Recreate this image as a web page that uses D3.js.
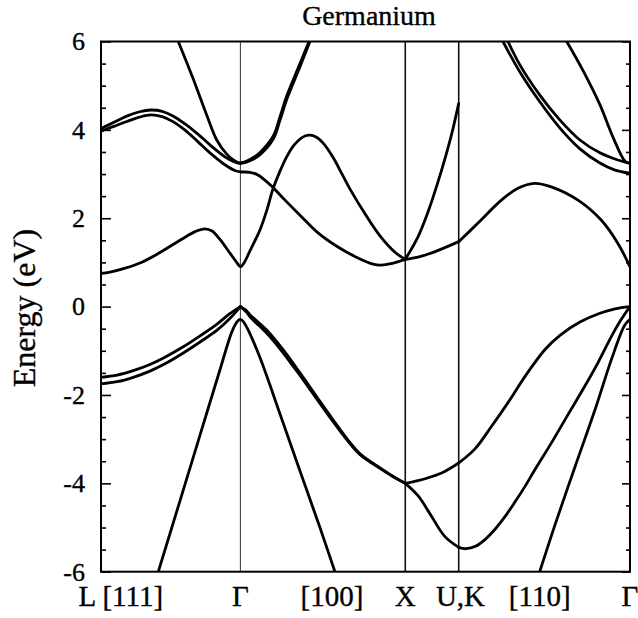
<!DOCTYPE html>
<html><head><meta charset="utf-8">
<script src="https://cdn.jsdelivr.net/npm/d3@7"></script>
<style>body{margin:0;background:#fff} svg text{font-family:'Liberation Serif','Times New Roman',serif !important;stroke:#000;stroke-width:0.35px}</style>
</head><body><svg id="c" width="638" height="618"></svg>
<script>
// ---- path / axis data ----
const symK = [0, 0.866, 1.890, 2.222, 3.286];          // L, Γ, X, U|K, Γ
const xLabels = ["L [111]", "Γ", "[100]", "X", "U,K", "[110]", "Γ"];
const xLabelK = [0.123, 0.866, 1.435, 1.890, 2.233, 2.725, 3.286];
const yMajor = [-6, -4, -2, 0, 2, 4, 6];
const yMinor = [-5.5,-5,-4.5,-3.5,-3,-2.5,-1.5,-1,-0.5,0.5,1,1.5,2.5,3,3.5,4.5,5,5.5];
const title = "Germanium";
const yTitle = "Energy (eV)";

// ---- bands: [k, E(eV)] ----
// valence, L-Γ
const lgHeavy = [[0,-1.60],[0.10,-1.55],[0.20,-1.45],[0.304,-1.31],[0.40,-1.14],[0.511,-0.91],[0.62,-0.65],[0.719,-0.40],[0.80,-0.16],[0.866,0]];
const lgLight = [[0,-1.75],[0.10,-1.70],[0.20,-1.60],[0.304,-1.46],[0.40,-1.29],[0.511,-1.05],[0.62,-0.79],[0.719,-0.54],[0.80,-0.27],[0.866,0]];
// split-off band L-Γ-X
const splitOff = [[0.356,-6.0],[0.491,-4.39],[0.615,-2.91],[0.739,-1.43],[0.814,-0.56],[0.848,-0.33],[0.866,-0.29],
  [0.884,-0.34],[0.913,-0.52],[0.988,-1.16],[1.112,-2.43],[1.236,-3.72],[1.360,-5.0],[1.453,-6.0]];
// valence, Γ-X
const gxV1 = [[0.866,0],[0.90,-0.08],[0.93,-0.20],[1.029,-0.53],[1.130,-0.97],[1.236,-1.50],[1.340,-2.04],[1.441,-2.56],[1.530,-3.00],[1.609,-3.33],[1.733,-3.65],[1.810,-3.83],[1.890,-4.0]];
const gxV2 = [[0.866,0],[0.90,-0.11],[0.93,-0.25],[1.029,-0.60],[1.130,-1.04],[1.236,-1.56],[1.340,-2.09],[1.441,-2.60],[1.530,-3.03],[1.609,-3.35],[1.733,-3.66],[1.810,-3.84],[1.890,-4.0]];
// valence, X-U and K-Γ
const xuV1 = [[1.890,-4.0],[1.969,-3.94],[2.052,-3.85],[2.135,-3.73],[2.222,-3.54]];
const xuV2 = [[1.890,-4.0],[1.969,-4.28],[2.052,-4.74],[2.135,-5.20],[2.222,-5.45]];
const kgV1 = [[2.222,-3.54],[2.323,-3.22],[2.424,-2.72],[2.540,-2.11],[2.632,-1.59],[2.758,-0.97],[2.851,-0.65],[2.975,-0.35],[3.099,-0.15],[3.193,-0.05],[3.286,0]];
const kgV2 = [[2.222,-5.45],[2.267,-5.48],[2.330,-5.42],[2.383,-5.28],[2.445,-5.05],[2.508,-4.76],[2.570,-4.43],[2.632,-4.08],[2.694,-3.70],[2.797,-3.09],[2.900,-2.45],[3.004,-1.81],[3.090,-1.25],[3.170,-0.68],[3.230,-0.30],[3.286,0]];
const kgSO = [[2.725,-6.0],[2.820,-4.94],[2.944,-3.63],[3.068,-2.34],[3.174,-1.16],[3.253,-0.42],[3.286,-0.29]];
// conduction
const cLowest = [[0,0.75],[0.056,0.78],[0.150,0.87],[0.250,1.00],[0.350,1.19],[0.450,1.41],[0.540,1.61],[0.600,1.72],[0.646,1.76],[0.690,1.71],[0.739,1.52],[0.801,1.21],[0.845,0.99],[0.866,0.90],
  [0.890,1.00],[0.925,1.26],[0.988,1.74],[1.029,2.17],[1.068,2.66],[1.110,3.05],[1.155,3.40],[1.200,3.66],[1.250,3.83],[1.290,3.88],[1.330,3.85],[1.380,3.70],[1.441,3.38],[1.500,2.98],[1.547,2.66],[1.640,2.10],[1.733,1.60],[1.826,1.23],[1.890,1.07]];
const cSecond = [[0,3.97],[0.080,4.08],[0.160,4.19],[0.240,4.29],[0.310,4.34],[0.380,4.30],[0.450,4.18],[0.520,4.00],[0.600,3.74],[0.677,3.48],[0.770,3.21],[0.832,3.08],[0.866,3.05],
  [0.925,3.04],[0.975,2.98],[1.050,2.76],[1.143,2.41],[1.236,2.07],[1.348,1.67],[1.472,1.35],[1.596,1.10],[1.690,0.96],[1.740,0.94],[1.801,0.97],[1.890,1.07]];
const cThird = [[0,4.03],[0.080,4.17],[0.160,4.31],[0.240,4.41],[0.310,4.45],[0.380,4.42],[0.450,4.31],[0.520,4.14],[0.600,3.91],[0.677,3.66],[0.770,3.39],[0.832,3.27],[0.866,3.24],
  [0.925,3.30],[0.988,3.44],[1.070,3.79],[1.112,4.22],[1.153,4.68],[1.236,5.43],[1.298,6.0]];
const cSteep = [[0.480,6.0],[0.573,5.15],[0.657,4.33],[0.719,3.77],[0.781,3.45],[0.830,3.30],[0.866,3.25],
  [0.925,3.33],[0.988,3.49],[1.070,3.86],[1.112,4.30],[1.153,4.76],[1.236,5.50],[1.292,6.0]];
const xuC1 = [[1.890,1.07],[1.969,1.12],[2.072,1.24],[2.222,1.47]];
const xuC2 = [[1.890,1.07],[1.969,1.58],[2.031,2.14],[2.087,2.75],[2.143,3.43],[2.180,3.93],[2.222,4.60]];
const kgC1 = [[2.222,1.47],[2.342,1.89],[2.487,2.41],[2.590,2.68],[2.693,2.79],[2.797,2.71],[2.963,2.41],[3.107,1.96],[3.211,1.43],[3.286,0.90]];
const kgUp1 = [[2.528,6.0],[2.602,5.47],[2.727,4.78],[2.851,4.22],[2.975,3.77],[3.099,3.48],[3.193,3.34],[3.286,3.24]];
const kgUp2 = [[2.497,6.0],[2.602,5.31],[2.727,4.63],[2.851,4.04],[2.975,3.57],[3.099,3.25],[3.193,3.09],[3.286,3.02]];
const kgUp3 = [[2.893,6.0],[2.996,5.33],[3.099,4.57],[3.182,3.82],[3.255,3.29],[3.286,3.24]];

const bands = [lgHeavy, lgLight, splitOff, gxV1, gxV2, xuV1, xuV2, kgV1, kgV2, kgSO,
  cLowest, cSecond, cThird, cSteep, xuC1, xuC2, kgC1, kgUp1, kgUp2, kgUp3];

// ---- drawing ----
const svg = d3.select("#c");
const L = 101, R = 630, T = 41.5, B = 571.7;
const x = d3.scaleLinear().domain([symK[0], symK[symK.length-1]]).range([L, R]);
const y = d3.scaleLinear().domain([-6, 6]).range([B, T]);
const serif = "Liberation Serif, Times New Roman, serif";

svg.append("defs").append("clipPath").attr("id","clip")
  .append("rect").attr("x",L).attr("y",T).attr("width",R-L).attr("height",B-T);

// symmetry lines
svg.append("g").selectAll("line").data(symK.slice(1, -1)).join("line")
  .attr("x1", d => x(d)).attr("x2", d => x(d)).attr("y1", T).attr("y2", B)
  .attr("stroke", (d,i) => i === 0 ? "#444" : "#111")
  .attr("stroke-width", (d,i) => i === 0 ? 1.1 : 1.6);

// bands
const line = d3.line().x(d => x(d[0])).y(d => y(d[1])).curve(d3.curveCatmullRom.alpha(0.5));
svg.append("g").attr("clip-path","url(#clip)").selectAll("path").data(bands).join("path")
  .attr("d", line).attr("fill","none").attr("stroke","#000")
  .attr("stroke-width", 2.8).attr("stroke-linejoin","round").attr("stroke-linecap","round");

// axes
function styleAxis(g){
  g.select(".domain").remove();
  g.selectAll(".tick line").attr("stroke","#000").attr("stroke-width",1.6);
  g.attr("font-family", serif).attr("font-size", 26);
  g.selectAll("text").attr("fill","#000");
}
svg.append("g").attr("transform",`translate(${L},0)`)
  .call(d3.axisLeft(y).tickValues(yMajor).tickSize(-10).tickPadding(16).tickFormat(d => String(d)))
  .call(styleAxis);
svg.append("g").attr("transform",`translate(${L},0)`)
  .call(d3.axisLeft(y).tickValues(yMinor).tickSize(-5).tickFormat(""))
  .call(styleAxis);
svg.append("g").attr("transform",`translate(${R},0)`)
  .call(d3.axisRight(y).tickValues(yMajor).tickSize(-8).tickFormat(""))
  .call(styleAxis);
svg.append("g").attr("transform",`translate(${R},0)`)
  .call(d3.axisRight(y).tickValues(yMinor).tickSize(-4).tickFormat(""))
  .call(styleAxis);

// frame
svg.append("rect").attr("x",L).attr("y",T).attr("width",R-L).attr("height",B-T)
  .attr("fill","none").attr("stroke","#000").attr("stroke-width",2);

// x labels
svg.append("g").selectAll("text").data(xLabels).join("text")
  .attr("x", (d,i) => x(xLabelK[i])).attr("y", 606)
  .attr("text-anchor","middle").attr("font-family", serif).attr("font-size", 29)
  .attr("fill","#000").text(d => d);

// title
svg.append("text").attr("x", 369).attr("y", 25).attr("text-anchor","middle")
  .attr("font-family", serif).attr("font-size", 28).attr("fill","#000").text(title);

// y title
svg.append("text").attr("transform","translate(35,308) rotate(-90)").attr("text-anchor","middle")
  .attr("font-family", serif).attr("font-size", 32).attr("fill","#000").text(yTitle);
</script></body></html>
